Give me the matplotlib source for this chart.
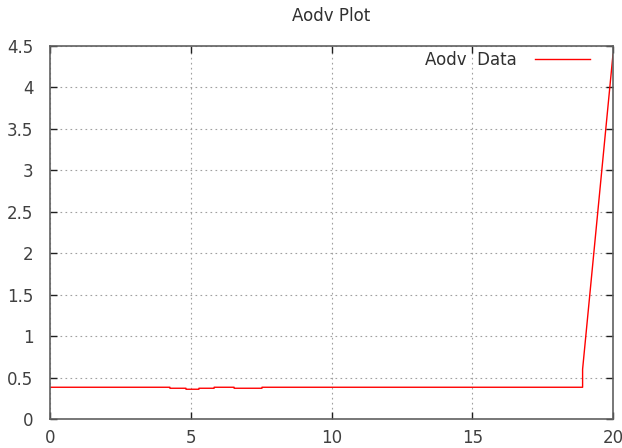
import matplotlib
matplotlib.use('Agg')
import matplotlib.pyplot as plt

# step-like Aodv data
time = [0, 4.26, 4.26, 4.83, 4.83, 5.29, 5.29, 5.83, 5.83, 6.54, 6.54, 7.53, 7.53, 18.92, 18.92, 20]
aodv = [0.383, 0.383, 0.371, 0.371, 0.359, 0.359, 0.371, 0.371, 0.383, 0.383, 0.371, 0.371, 0.383, 0.383, 0.6, 4.4]

xticks = [0, 5, 10, 15, 20]
yticks = [0, 0.5, 1, 1.5, 2, 2.5, 3, 3.5, 4, 4.5]
ylabels = ['0', '0.5', '1', '1.5', '2', '2.5', '3', '3.5', '4', '4.5']

plt.rcParams['font.family'] = 'DejaVu Sans'

fig = plt.figure(figsize=(6.22, 4.48), dpi=100)
ax = fig.add_axes([50/622, 29/448, 563/622, 373/448])

ax.plot(time, aodv, color='#ff0000', linewidth=1, label='Aodv  Data')

ax.set_xlim(0, 20)
ax.set_ylim(0, 4.5)
ax.set_xticks(xticks)
ax.set_yticks(yticks)
ax.set_yticklabels(ylabels)
ax.tick_params(direction='in', length=5, width=1, color='#202020',
               top=True, right=True, labelsize=12, labelcolor='#404040')
ax.tick_params(axis='x', pad=7)
ax.tick_params(axis='y', pad=12)
ax.grid(True, color='#a0a0a0', linestyle=(0, (1.5, 3)), linewidth=0.8)

for s in ax.spines.values():
    s.set_color('#606060')
    s.set_linewidth(1.2)

ax.set_title('Aodv Plot', fontsize=12, color='#303030', pad=18)

leg = ax.legend(loc='upper right', frameon=False, markerfirst=False,
                handlelength=3.3, handletextpad=1.1, fontsize=12,
                bbox_to_anchor=(0.971, 1.004), borderaxespad=0)
for t in leg.get_texts():
    t.set_color('#303030')

fig.savefig('out.png', dpi=100)
